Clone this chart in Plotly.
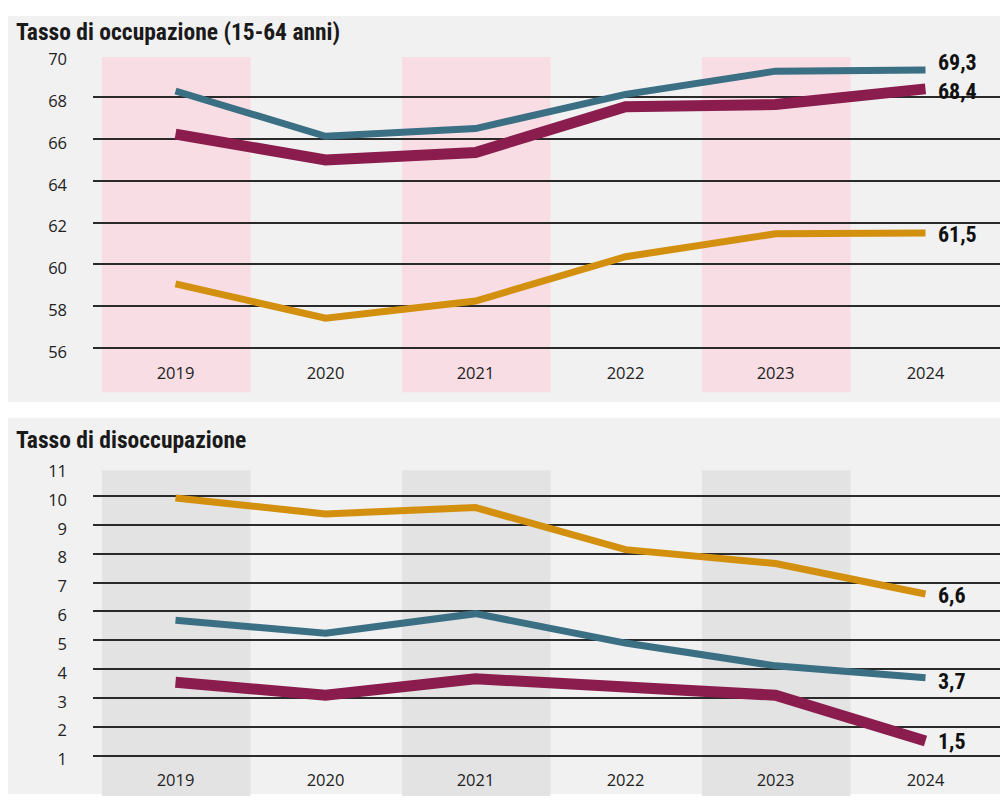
import plotly.graph_objects as go

years = ["2019", "2020", "2021", "2022", "2023", "2024"]

# Tasso di occupazione (15-64 anni)
occ_blue = [68.3, 66.13, 66.5, 68.14, 69.25, 69.3]
occ_purple = [66.23, 65.0, 65.35, 67.55, 67.65, 68.4]
occ_orange = [59.06, 57.42, 58.24, 60.36, 61.46, 61.5]

# Tasso di disoccupazione
dis_orange = [9.93, 9.38, 9.6, 8.14, 7.66, 6.6]
dis_blue = [5.69, 5.24, 5.92, 4.9, 4.11, 3.7]
dis_purple = [3.54, 3.09, 3.66, 3.37, 3.09, 1.5]

occ_ticks = [56, 58, 60, 62, 64, 66, 68, 70]
dis_ticks = [1, 2, 3, 4, 5, 6, 7, 8, 9, 10, 11]

titles = ["Tasso di occupazione (15-64 anni)", "Tasso di disoccupazione"]

BLUE = "#3b6f84"
PURPLE = "#8a1d4d"
ORANGE = "#d3900e"
PINK = "#f8dde4"
GRAYBAND = "#e3e3e3"
PANEL = "#f1f1f1"

# page body has an 8px margin: figure is sized to fit the 1008x804 window exactly
M = 8
W, H = 1008 - 2 * M, 804 - 2 * M


def px_x(p):
    return (p - M) / W


def px_y(p):
    return 1 - (p - M) / H


def fmt(v):
    return f"{v:.1f}".replace(".", ",")


fig = go.Figure()


def add_series(vals, color, width, xa, ya):
    fig.add_trace(go.Scatter(
        x=list(range(len(years))), y=vals, mode="lines", xaxis=xa, yaxis=ya,
        line=dict(color=color, width=width),
        hoverinfo="skip", showlegend=False, cliponaxis=False))


add_series(occ_orange, ORANGE, 7, "x", "y")
add_series(occ_blue, BLUE, 7, "x", "y")
add_series(occ_purple, PURPLE, 11, "x", "y")
add_series(dis_orange, ORANGE, 7, "x2", "y2")
add_series(dis_blue, BLUE, 7, "x2", "y2")
add_series(dis_purple, PURPLE, 11, "x2", "y2")

shapes = []
# panel backgrounds
for (top, bot) in [(4, 399), (415, 803)]:
    shapes.append(dict(type="rect", xref="paper", yref="paper", x0=0, x1=1.0,
                       y0=max(px_y(bot), 0), y1=min(px_y(top), 1), fillcolor=PANEL, line_width=0, layer="below"))
# column bands
for i in (0, 2, 4):
    shapes.append(dict(type="rect", xref="x", yref="y domain", x0=i - 0.49, x1=i + 0.5,
                       y0=-0.1, y1=0.995, fillcolor=PINK, line_width=0, layer="below"))
    shapes.append(dict(type="rect", xref="x2", yref="y2 domain", x0=i - 0.49, x1=i + 0.5,
                       y0=-0.1, y1=0.99, fillcolor=GRAYBAND, line_width=0, layer="below"))

annotations = []
tfont = dict(family="Liberation Sans Narrow, Roboto Condensed, Roboto", size=23.5, color="#1a1a1a")
annotations.append(dict(text="<b>" + titles[0] + "</b>", xref="paper", yref="paper", x=px_x(14), y=px_y(24),
                        xanchor="left", yanchor="middle", showarrow=False, font=tfont))
annotations.append(dict(text="<b>" + titles[1] + "</b>", xref="paper", yref="paper", x=px_x(14), y=px_y(437),
                        xanchor="left", yanchor="middle", showarrow=False, font=tfont))

lfont = dict(family="Liberation Sans Narrow, Roboto Condensed, Roboto", size=22, color="#111111")
last = len(years) - 1
# (values, y axis, x axis, vertical pixel shift of the label: + = up)
for vals, ya, xa, dy in [(occ_blue, "y", "x", 8), (occ_purple, "y", "x", -3), (occ_orange, "y", "x", -2),
                         (dis_orange, "y2", "x2", -1), (dis_blue, "y2", "x2", -4), (dis_purple, "y2", "x2", 0)]:
    annotations.append(dict(text="<b>" + fmt(vals[-1]) + "</b>", x=last, y=vals[-1], xref=xa, yref=ya,
                            xanchor="left", yanchor="middle", xshift=10, yshift=dy, showarrow=False, font=lfont))

xdom = [px_x(93), min(px_x(1003), 1.0)]
x_right = -0.55 + (W * (xdom[1] - xdom[0])) / 150.0
tickfont = dict(family="Open Sans", size=16.5, color="#222222")
axis_x = dict(domain=xdom, range=[-0.55, x_right], tickvals=list(range(len(years))), ticktext=years,
              showgrid=False, zeroline=False, showline=False, ticks="", tickfont=tickfont, fixedrange=True)

yaxis_common = dict(showgrid=True, gridcolor="#2a2a2a", gridwidth=1.5, zeroline=False, showline=False,
                    ticks="", tickfont=tickfont, ticklabelstandoff=25, ticklabelshift=4)

fig.update_layout(
    width=W, height=H, margin=dict(l=0, r=0, t=0, b=0),
    paper_bgcolor="white", plot_bgcolor="rgba(0,0,0,0)",
    shapes=shapes, annotations=annotations,
    xaxis=dict(axis_x, anchor="y"),
    xaxis2=dict(axis_x, anchor="y2"),
    yaxis=dict(yaxis_common, domain=[px_y(358), px_y(48)], range=[55.34, 70], tickvals=occ_ticks, anchor="x"),
    yaxis2=dict(yaxis_common, domain=[px_y(770), px_y(465)], range=[0.555, 11], tickvals=dis_ticks, anchor="x2"),
)

fig.write_html("out.html")
